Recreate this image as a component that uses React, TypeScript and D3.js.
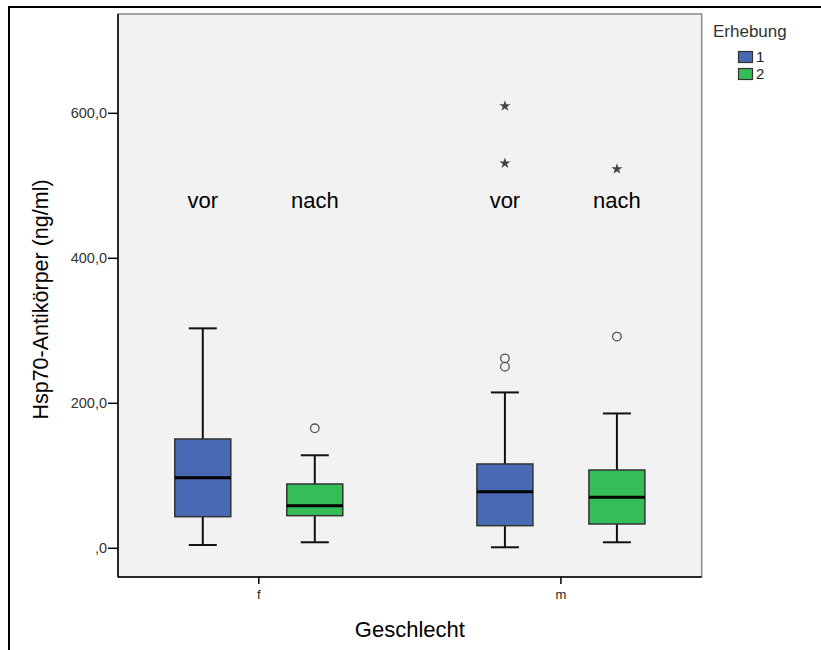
import React from "react";
import * as d3 from "d3";

const categories = ["f", "m"];
const groups = ["1", "2"];
const groupLabels = ["vor", "nach"];
const groupColors = ["#4a69b5", "#35bd58"];
// [lower whisker, Q1, median, Q3, upper whisker] per category
const group1Stats = [
  [4.5, 43.6, 97.4, 150.8, 303.4],
  [1.4, 31.2, 78, 116.3, 215],
];
const group2Stats = [
  [8.3, 45, 58.8, 88.7, 128.3],
  [8.3, 33.5, 70.3, 108, 186],
];
const group1Outliers = [[], [262, 250.5]];
const group2Outliers = [[165.5], [292]];
const group1Extremes = [[], [610, 531]];
const group2Extremes = [[], [523]];
const yTicks = [0, 200, 400, 600];
const yTickLabels = [",0", "200,0", "400,0", "600,0"];
const annotationValue = 469;
const legendTitle = "Erhebung";
const xTitle = "Geschlecht";
const yTitle = "Hsp70-Antikörper (ng/ml)";

const statsByGroup = [group1Stats, group2Stats];
const outliersByGroup = [group1Outliers, group2Outliers];
const extremesByGroup = [group1Extremes, group2Extremes];

export default function App() {
  const W = 821;
  const H = 650;
  const left = 118;
  const right = 701.7;
  const top = 14;
  const bottom = 577;
  const x = d3.scalePoint<string>().domain(categories).range([left, right]).padding(0.466);
  const sub = d3
    .scaleBand<string>()
    .domain(groups)
    .range([-112, 112])
    .paddingInner(0.5)
    .paddingOuter(0.25);
  const y = d3.scaleLinear().domain([-39.6, 737]).range([bottom, top]);
  const bw = sub.bandwidth();
  const capW = 28;
  const star = d3.symbol().type(d3.symbolStar).size(38)() as string;
  const font = "'Liberation Sans', Arial, sans-serif";

  return (
    <svg
      width={W}
      height={H}
      style={{ position: "absolute", left: 0, top: 0, background: "#fff" }}
      fontFamily={font}
    >
      <rect x={9} y={7} width={900} height={700} fill="none" stroke="#000" strokeWidth={2} />
      <rect
        x={left}
        y={top}
        width={right - left}
        height={bottom - top}
        fill="#f2f2f2"
        stroke="#8a8a8a"
        strokeWidth={1.5}
      />
      <line x1={left} x2={left} y1={top} y2={bottom} stroke="#000" strokeWidth={1.5} />
      <line x1={left} x2={right} y1={bottom} y2={bottom} stroke="#000" strokeWidth={1.5} />

      {yTicks.map((t, i) => (
        <g key={t}>
          <line x1={left - 10} x2={left} y1={y(t)} y2={y(t)} stroke="#000" strokeWidth={1.5} />
          <text x={left - 11} y={y(t)} dy="0.35em" textAnchor="end" fontSize={14.5} fill="#333">
            {yTickLabels[i]}
          </text>
        </g>
      ))}

      {categories.map((c) => (
        <g key={c}>
          <line x1={x(c)} x2={x(c)} y1={bottom} y2={bottom + 7} stroke="#000" strokeWidth={1.5} />
          <text x={x(c)} y={bottom + 22} textAnchor="middle" fontSize={13} fill="#222">
            {c}
          </text>
        </g>
      ))}

      {categories.map((c, ci) =>
        groups.map((g, gi) => {
          const cx = (x(c) as number) + (sub(g) as number) + bw / 2;
          const [lo, q1, med, q3, hi] = statsByGroup[gi][ci];
          return (
            <g key={c + g}>
              <line x1={cx} x2={cx} y1={y(hi)} y2={y(q3)} stroke="#111" strokeWidth={2} />
              <line x1={cx} x2={cx} y1={y(q1)} y2={y(lo)} stroke="#111" strokeWidth={2} />
              <line x1={cx - capW / 2} x2={cx + capW / 2} y1={y(hi)} y2={y(hi)} stroke="#111" strokeWidth={2} />
              <line x1={cx - capW / 2} x2={cx + capW / 2} y1={y(lo)} y2={y(lo)} stroke="#111" strokeWidth={2} />
              <rect
                x={cx - bw / 2}
                y={y(q3)}
                width={bw}
                height={y(q1) - y(q3)}
                fill={groupColors[gi]}
                stroke="#333"
                strokeWidth={1.5}
              />
              <line x1={cx - bw / 2} x2={cx + bw / 2} y1={y(med)} y2={y(med)} stroke="#000" strokeWidth={3} />
              {outliersByGroup[gi][ci].map((v, k) => (
                <circle key={k} cx={cx} cy={y(v)} r={4.3} fill="none" stroke="#555" strokeWidth={1.3} />
              ))}
              {extremesByGroup[gi][ci].map((v, k) => (
                <path key={k} d={star} transform={`translate(${cx},${y(v)})`} fill="#444" />
              ))}
              <text x={cx} y={y(annotationValue)} textAnchor="middle" fontSize={22} fill="#000">
                {groupLabels[gi]}
              </text>
            </g>
          );
        })
      )}

      <text x={(left + right) / 2} y={637} textAnchor="middle" fontSize={22} fill="#000">
        {xTitle}
      </text>
      <text
        transform={`translate(48,${(top + bottom) / 2 + 4}) rotate(-90)`}
        textAnchor="middle"
        fontSize={21.5}
        fill="#000"
      >
        {yTitle}
      </text>

      <text x={713} y={37} fontSize={17} fill="#333">
        {legendTitle}
      </text>
      {groups.map((g, i) => (
        <g key={g}>
          <rect x={738.5} y={51.5 + i * 17} width={14} height={11} fill={groupColors[i]} stroke="#333" strokeWidth={1.2} />
          <text x={756} y={62 + i * 17} fontSize={15} fill="#222">
            {g}
          </text>
        </g>
      ))}
    </svg>
  );
}
